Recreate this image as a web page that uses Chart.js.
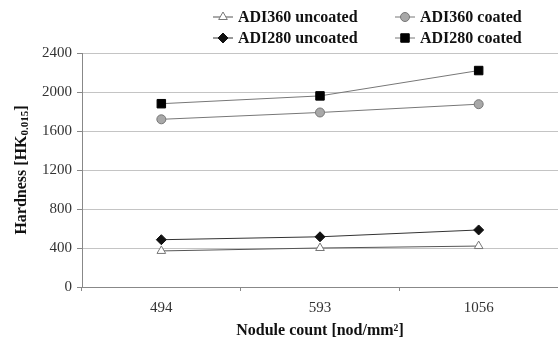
<!DOCTYPE html>
<html>
<head>
<meta charset="utf-8">
<script src="https://cdn.jsdelivr.net/npm/chart.js@4/dist/chart.umd.min.js"></script>
<style>
  html, body { margin: 0; padding: 0; background: #fff; }
  #wrap { width: 558px; height: 344px; position: relative; }
</style>
</head>
<body>
<div id="wrap"><canvas id="myChart"></canvas></div>
<script>
const nodules = ['494', '593', '1056'];
const adi360Uncoated = [370, 400, 420];
const adi360Coated = [1720, 1790, 1875];
const adi280Uncoated = [485, 515, 585];
const adi280Coated = [1880, 1960, 2220];
const yTicks = [0, 400, 800, 1200, 1600, 2000, 2400];

const serif = '"Liberation Serif", "Times New Roman", serif';

// legend drawn by hand: line through marker, two per row
const legendBox = {
    id: 'legendBox',
    afterDraw(chart) {
        const ctx = chart.ctx;
        const spots = [[213, 17], [395, 17], [213, 38], [395, 38]];
        chart.data.datasets.forEach((ds, i) => {
            const [x, y] = spots[i];
            ctx.save();
            ctx.strokeStyle = ds.borderColor;
            ctx.lineWidth = 1;
            ctx.beginPath();
            ctx.moveTo(x, y);
            ctx.lineTo(x + 20, y);
            ctx.stroke();
            ctx.fillStyle = ds.pointBackgroundColor;
            ctx.strokeStyle = ds.pointBorderColor;
            Chart.helpers.drawPoint(ctx, {
                pointStyle: ds.pointStyle,
                radius: ds.pointRadius,
                borderWidth: 1
            }, x + 10, y);
            ctx.fillStyle = '#111';
            ctx.font = 'bold 16px ' + serif;
            ctx.textBaseline = 'middle';
            ctx.fillText(ds.label, x + 25, y + 1);
            ctx.restore();
        });
    }
};

// y title with subscript
const yTitle = {
    id: 'yTitle',
    afterDraw(chart) {
        const ctx = chart.ctx;
        const { top, bottom } = chart.chartArea;
        ctx.save();
        ctx.translate(22, (top + bottom) / 2);
        ctx.rotate(-Math.PI / 2);
        ctx.fillStyle = '#111';
        ctx.textBaseline = 'middle';
        const main = 'Hardness [HK';
        const sub = '0.015';
        ctx.font = 'bold 16px ' + serif;
        const w1 = ctx.measureText(main).width;
        const w3 = ctx.measureText(']').width;
        ctx.font = 'bold 11px ' + serif;
        const w2 = ctx.measureText(sub).width;
        let x = -(w1 + w2 + w3) / 2;
        ctx.font = 'bold 16px ' + serif;
        ctx.fillText(main, x, 0);
        x += w1;
        ctx.font = 'bold 11px ' + serif;
        ctx.fillText(sub, x, 3);
        x += w2;
        ctx.font = 'bold 16px ' + serif;
        ctx.fillText(']', x, 0);
        ctx.restore();
    }
};

const data = {
    labels: nodules,
    datasets: [{
        label: 'ADI360 uncoated',
        data: adi360Uncoated,
        borderColor: '#555',
        pointStyle: 'triangle',
        pointRadius: 5,
        pointBackgroundColor: '#fff',
        pointBorderColor: '#777'
    }, {
        label: 'ADI360 coated',
        data: adi360Coated,
        borderColor: '#777',
        pointStyle: 'circle',
        pointRadius: 4.5,
        pointBackgroundColor: '#a8a8a8',
        pointBorderColor: '#777'
    }, {
        label: 'ADI280 uncoated',
        data: adi280Uncoated,
        borderColor: '#333',
        pointStyle: 'rectRot',
        pointRadius: 5,
        pointBackgroundColor: '#111',
        pointBorderColor: '#111'
    }, {
        label: 'ADI280 coated',
        data: adi280Coated,
        borderColor: '#777',
        pointStyle: 'rect',
        pointRadius: 6,
        pointBackgroundColor: '#000',
        pointBorderColor: '#000'
    }]
};
data.datasets.forEach(ds => {
    ds.borderWidth = 1;
    ds.pointBorderWidth = 1;
    ds.tension = 0;
});

const config = {
    type: 'line',
    data: data,
    options: {
        responsive: false,
        animation: false,
        layout: {
            autoPadding: false,
            padding: { top: 53, left: 0, right: 0, bottom: 0 }
        },
        plugins: {
            legend: { display: false },
            tooltip: { enabled: false }
        },
        scales: {
            x: {
                offset: true,
                afterFit(scale) {
                    scale.height = 57;
                    scale.paddingLeft = 0;
                    scale.paddingRight = 0;
                },
                grid: {
                    offset: true,
                    drawOnChartArea: false,
                    tickLength: 4,
                    color: '#888'
                },
                border: { color: '#888' },
                ticks: {
                    color: '#333',
                    padding: 8,
                    font: { family: serif, size: 15 }
                },
                title: {
                    display: true,
                    text: 'Nodule count [nod/mm²]',
                    color: '#111',
                    padding: { top: 4 },
                    font: { family: serif, size: 16, weight: 'bold' }
                }
            },
            y: {
                min: 0,
                max: 2400,
                afterFit(scale) {
                    scale.width = 82;
                    scale.paddingTop = 0;
                    scale.paddingBottom = 0;
                },
                afterBuildTicks(scale) {
                    scale.ticks = yTicks.map(v => ({ value: v }));
                },
                grid: {
                    color: '#c4c4c4',
                    tickColor: '#888',
                    tickLength: 5
                },
                border: { color: '#888' },
                ticks: {
                    color: '#333',
                    padding: 5,
                    font: { family: serif, size: 15 },
                    callback: v => String(v)
                }
            }
        }
    },
    plugins: [legendBox, yTitle]
};

const canvas = document.getElementById('myChart');
canvas.width = 558;
canvas.height = 344;
new Chart(canvas, config);
</script>
</body>
</html>
